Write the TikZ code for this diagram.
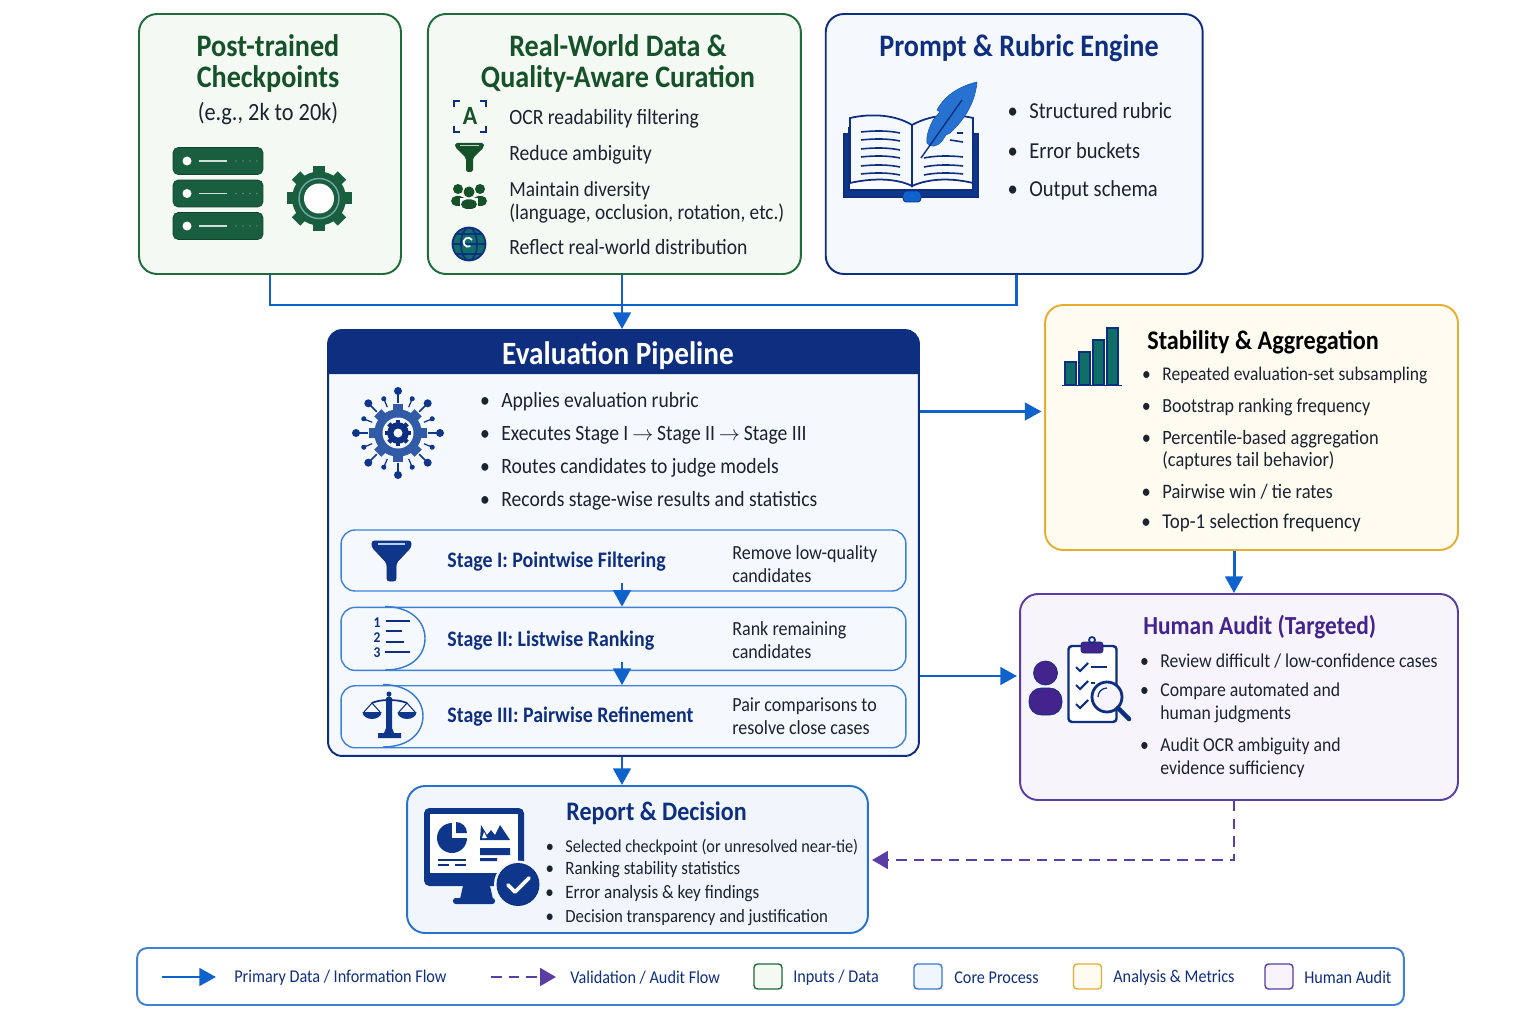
\documentclass[tikz,border=0pt]{standalone}
\usepackage{fontspec}
\setmainfont[FakeStretch=0.9]{Carlito}
\usepackage{tikz}
\usetikzlibrary{arrows.meta,positioning,calc}
\definecolor{flowblue}{HTML}{0F62CC}
\definecolor{navy}{HTML}{0E2F80}
\definecolor{inkgray}{HTML}{1B2230}
\definecolor{leafgreen}{HTML}{1F6B3A}
\definecolor{darkleaf}{HTML}{155229}
\definecolor{softleaf}{HTML}{F5F9F3}
\definecolor{softblue}{HTML}{F5F8FD}
\definecolor{softsky}{HTML}{F1F6FD}
\definecolor{amber}{HTML}{E6AE2E}
\definecolor{softamber}{HTML}{FEFBF1}
\definecolor{violet}{HTML}{5B3DA6}
\definecolor{deepviolet}{HTML}{43248C}
\definecolor{softviolet}{HTML}{F8F4FC}
\definecolor{teal}{HTML}{0F6E68}
\definecolor{servergreen}{HTML}{1A5E40}
\newcommand{\bul}{\llap{\textbullet\hspace{6.5pt}}}
\newcommand{\cogwheel}[5]{% centre, radius, teeth, tooth halfwidth, colour
  \begin{scope}[shift={#1}]
    \foreach \i in {1,...,#3}{\fill[#5,rotate=\i*360/#3] (-#4,0) rectangle (#4,#2*1.3);}
    \fill[#5] (0,0) circle (#2*1.08);
  \end{scope}}
\begin{document}
\begin{tikzpicture}[x=0.02cm,y=-0.02cm,
  panel/.style={draw,line width=1.1pt,rounded corners=.36cm,inner sep=0pt},
  headtext/.style={inner sep=0pt,yshift=-1pt,align=center,font=\fontsize{17.8}{17.8}\selectfont\bfseries},
  bodytext/.style={anchor=west,inner sep=0pt,yshift=-1pt,align=left,text=inkgray,font=\fontsize{12.4}{13.2}\selectfont},
  smalltext/.style={anchor=west,inner sep=0pt,yshift=-1pt,align=left,text=inkgray,font=\fontsize{11.2}{13}\selectfont},
  stagetext/.style={anchor=west,inner sep=0pt,yshift=-1pt,text=navy,font=\fontsize{12.6}{14}\selectfont\bfseries},
  keytext/.style={anchor=west,inner sep=0pt,yshift=-1pt,text=navy,font=\fontsize{10.25}{11}\selectfont},
  stagebox/.style={draw=flowblue!80,line width=.8pt,fill=softblue,rounded corners=.28cm,minimum width=11.3cm,inner sep=0pt},
  swatch/.style={draw,line width=.8pt,rounded corners=2pt,minimum width=.56cm,minimum height=.5cm,inner sep=0pt},
  flow/.style={-{Triangle[length=9.5pt,width=10pt]},line width=1.7pt,flowblue},
  wire/.style={line width=1.7pt,flowblue},
  auditflow/.style={-{Triangle[length=9pt,width=10pt]},line width=1.5pt,violet,dash pattern=on 6pt off 4pt}
]
\useasboundingbox (0,0) rectangle (1536,1024);

% input panels
\node[panel,draw=leafgreen,fill=softleaf,minimum width=5.24cm,minimum height=5.2cm] (post) at (270,144) {};
\node[panel,draw=leafgreen,fill=softleaf,minimum width=7.46cm,minimum height=5.2cm,right=.5cm of post] (real) {};
\node[panel,draw=navy,fill=softblue,minimum width=7.54cm,minimum height=5.2cm,right=.46cm of real] (prompt) {};

\node[headtext,text=darkleaf] (posttitle) at (268,61.5) {Post-trained\\Checkpoints};
\node[bodytext,anchor=center,font=\fontsize{14.1}{14}\selectfont] (postnote) at (268,112) {(e.g., 2k to 20k)};
\foreach \y/\n in {161/a,193.5/b,226/c}{
  \node[draw=servergreen!70!black,fill=servergreen,rounded corners=3pt,minimum width=1.8cm,minimum height=.54cm,inner sep=0pt] (server\n) at (218,\y) {};
  \fill[white] (187,\y) circle (4.5);
  \draw[white!80!servergreen,line width=1pt] (199,\y) -- (227,\y);
  \foreach \x in {236,243,250,257}{\fill[white!60!servergreen] (\x,\y) circle (.7);}
}
\cogwheel{(319,198.5)}{25}{8}{6}{servergreen}
\fill[white] (319,198.5) circle (15);
\draw[teal!60!white,line width=.8pt] (319,198.5) circle (20);

\node[headtext,text=darkleaf] (realtitle) at (618,61.5) {Real-World Data \&\\Quality-Aware Curation};
\node[bodytext] (ocr) at (509,117) {OCR readability filtering};
\node[bodytext] (ambig) at (509,153) {Reduce ambiguity};
\node[bodytext,font=\fontsize{12.2}{13.2}\selectfont] (diverse) at (509,200.5) {Maintain diversity\\(language, occlusion, rotation, etc.)};
\node[bodytext] (reflect) at (509,245) {Reflect real-world distribution};
\draw[navy,line width=1.3pt] (454,107) -- (454,101) -- (460,101) (480,101) -- (486,101) -- (486,107)
  (486,126) -- (486,132) -- (480,132) (460,132) -- (454,132) -- (454,126);
\node[inner sep=0pt,text=darkleaf,font=\fontsize{15}{15}\selectfont\bfseries] (ocrglyph) at (470,116) {A};
\fill[darkleaf,rounded corners=1pt] (455,143) -- (484,143) -- (484,147) -- (473,158) -- (473,172) -- (466,172) -- (466,158) -- (455,147) -- cycle;
\fill[white!75!darkleaf] (460,145) rectangle (479,146);
\foreach \x in {458,480}{
  \fill[darkleaf] (\x,189) circle (5);
  \fill[darkleaf,rounded corners=3pt] (\x-7,206) -- (\x-7,196) -- (\x+7,196) -- (\x+7,206) -- cycle;
}
\fill[darkleaf] (469,192) circle (5.5);
\fill[white] (460,210) -- (460,198) -- (478,198) -- (478,210) -- cycle;
\fill[darkleaf,rounded corners=3pt] (461,209) -- (461,199.5) -- (477,199.5) -- (477,209) -- cycle;
\fill[teal] (469,244) circle (16.5);
\draw[navy,line width=1pt] (469,244) circle (16.5) (469,244) ellipse (8 and 16.5) (452.5,244) -- (485.5,244) (456,234) -- (482,234) (456,254) -- (482,254);
\draw[white,line width=1pt] (472,240) arc (-30:-300:4.5);

\node[headtext,text=navy] (prompttitle) at (1019,46) {Prompt \& Rubric Engine};
\node[bodytext,font=\fontsize{13}{14}\selectfont] (rubric) at (1029,109) {\bul Structured rubric};
\node[bodytext,font=\fontsize{13}{14}\selectfont] (bucket) at (1029,149) {\bul Error buckets};
\node[bodytext,font=\fontsize{13}{14}\selectfont] (schema) at (1029,189) {\bul Output schema};
\fill[navy!85!flowblue,draw=navy,line width=.6pt] (844,134) -- (844,197) -- (978,197) -- (978,134) -- cycle;
\fill[white,draw=navy,line width=.7pt] (849,190) -- (973,190) -- (973,128) -- (849,128) -- cycle;
\fill[softblue,draw=navy,line width=1pt] (850,118) .. controls (872,113) and (896,115) .. (912,125) -- (912,186) .. controls (896,178) and (872,178) .. (850,183) -- cycle;
\fill[softblue,draw=navy,line width=1pt] (912,125) .. controls (930,115) and (952,113) .. (973,118) -- (973,183) .. controls (952,178) and (930,178) .. (912,186) -- cycle;
\foreach \y in {132,140,149,157,166,174}{\draw[navy,line width=.9pt] (861,\y) .. controls (875,\y-1.5) and (888,\y-1.5) .. (900,\y+1);}
\foreach \y in {157,166,174}{\draw[navy,line width=.9pt] (924,\y+1) .. controls (936,\y-1.5) and (950,\y-1.5) .. (963,\y);}
\draw[navy,line width=.9pt] (950,140) -- (963,142) (957,133) -- (963,133);
\fill[flowblue,rounded corners=2pt,draw=navy,line width=.5pt] (903,191) rectangle (921,202);
\fill[flowblue!90!white,draw=flowblue!70!navy,line width=.3pt] (977,82) .. controls (960,86) and (945,95) .. (937,110) -- (940,112) -- (933,120) .. controls (929,128) and (926,136) .. (927,143) .. controls (930,148) and (937,147) .. (942,141) -- (946,135) -- (950,133) .. controls (962,122) and (975,105) .. (977,82) -- cycle;
\draw[navy,line width=.8pt] (921,158) -- (962,100);

% core process
\node[panel,draw=navy,fill=softblue,minimum width=11.82cm,minimum height=8.52cm,rounded corners=.28cm] (pipeline) at (623.5,543) {};
\fill[navy] (328,374) [rounded corners=.28cm] -- (328,330) -- (919.5,330) [sharp corners] -- (919.5,374) -- cycle;
\node[headtext,text=white,font=\fontsize{18.5}{18}\selectfont\bfseries] (pipetitle) at (618,354) {Evaluation Pipeline};
\node[bodytext] (applies) at (501,400) {\bul Applies evaluation rubric};
\node[bodytext] (executes) at (501,434) {\bul Executes Stage I\hspace{2.2pt}$\rightarrow$\hspace{2.2pt}Stage II\hspace{2.2pt}$\rightarrow$\hspace{2.2pt}Stage III};
\node[bodytext] (routes) at (501,466) {\bul Routes candidates to judge models};
\node[bodytext] (records) at (501,499) {\bul Records stage-wise results and statistics};
\foreach \a in {0,45,...,315}{
  \draw[navy!85!flowblue,line width=.9pt,shift={(398,433)},rotate=\a] (0,30) -- (0,42);
  \fill[navy!85!flowblue,shift={(398,433)},rotate=\a] (0,42) circle (4);
  \draw[navy!85!flowblue,line width=.7pt,shift={(398,433)},rotate=\a+22.5] (0,28) -- (0,37);
  \fill[navy!85!flowblue,shift={(398,433)},rotate=\a+22.5] (0,37) circle (2.6);
}
\cogwheel{(398,433)}{22}{8}{5}{navy!70!flowblue!85!white}
\fill[softblue] (398,433) circle (15.5);
\cogwheel{(398,433)}{10}{8}{2.2}{navy}
\fill[softblue] (398,433) circle (4.5);

\node[stagebox,minimum height=1.22cm] (stageone) at (623.5,560.5) {};
\node[stagebox,minimum height=1.26cm,below=.3cm of stageone] (stagetwo) {};
\node[stagebox,minimum height=1.24cm,below=.28cm of stagetwo] (stagethree) {};
\node[stagetext] (titleone) at (447,560) {Stage I: Pointwise Filtering};
\node[stagetext] (titletwo) at (447,638.5) {Stage II: Listwise Ranking};
\node[stagetext] (titlethree) at (447,715) {Stage III: Pairwise Refinement};
\node[smalltext,font=\fontsize{11.4}{13}\selectfont] (noteone) at (732,562.5) {Remove low-quality\\candidates};
\node[smalltext,font=\fontsize{11.4}{13}\selectfont] (notetwo) at (732,638.5) {Rank remaining\\candidates};
\node[smalltext,font=\fontsize{11.4}{13}\selectfont] (notethree) at (732,714.5) {Pair comparisons to\\resolve close cases};
\fill[navy!85!flowblue,rounded corners=1.5pt,draw=navy,line width=.5pt] (372,541) -- (411,541) -- (411,547) -- (396,563) -- (396,581) -- (387,581) -- (387,563) -- (372,547) -- cycle;
\fill[white!70!flowblue] (378,543) rectangle (405,545);
\draw[flowblue!85,line width=.8pt] (385,606.5) .. controls (412,607) and (425,622) .. (425,638.5) .. controls (425,655) and (412,670) .. (385,670);
\draw[flowblue!85,line width=.8pt] (383,684.5) .. controls (410,685) and (423,700) .. (423,716) .. controls (423,732) and (410,747) .. (383,747);
\node[inner sep=0pt,align=center,text=navy,font=\fontsize{8.5}{8.5}\selectfont\bfseries] (ranklist) at (377,638) {1\\2\\3};
\draw[navy,line width=.9pt] (386,621) -- (410,621) (386,631) -- (402,631) (386,642) -- (404,642) (385,652) -- (410,652);
\fill[navy!85!flowblue] (378,738) -- (378,733) -- (384,733) -- (386,728) -- (386,699) -- (392,699) -- (392,728) -- (394,733) -- (401,733) -- (401,738) -- cycle;
\fill[navy!85!flowblue] (389,694) circle (2.5) (389,700) circle (3.5);
\draw[navy,line width=1pt] (372,703) .. controls (380,699) and (398,699) .. (407,703);
\foreach \x in {372,407}{
  \draw[navy,line width=.6pt] (\x-8,712) -- (\x,703) -- (\x+8,712);
  \fill[navy!85!flowblue] (\x-9.5,712) -- (\x+9.5,712) arc (0:180:9.5 and 7) -- cycle;
}

% analysis and audit
\node[panel,draw=amber,fill=softamber,minimum width=8.26cm,minimum height=4.9cm] (stability) at (1251.5,427.5) {};
\node[headtext,anchor=west,text=black,font=\fontsize{15.3}{16}\selectfont\bfseries] (stabtitle) at (1147,340.5) {Stability \& Aggregation};
\node[smalltext,font=\fontsize{11.05}{12.6}\selectfont] (subsample) at (1162,374) {\bul Repeated evaluation-set subsampling};
\node[smalltext,font=\fontsize{11.4}{12.6}\selectfont] (bootstrap) at (1162,406) {\bul Bootstrap ranking frequency};
\node[smalltext,font=\fontsize{11.6}{12.6}\selectfont] (percentile) at (1162,448) {\bul Percentile-based aggregation\\(captures tail behavior)};
\node[smalltext,font=\fontsize{11.7}{12.6}\selectfont] (pairwise) at (1162,490) {\bul Pairwise win / tie rates};
\node[smalltext,font=\fontsize{12}{12.6}\selectfont] (topone) at (1162,521) {\bul Top-1 selection frequency};
\foreach \x/\h in {1065/362,1079/352,1093/340,1107/328}{\fill[teal,draw=navy,line width=.6pt] (\x,\h) rectangle (\x+11,385);}
\draw[navy,line width=1pt] (1062,385.5) -- (1122,385.5);

\node[panel,draw=violet,fill=softviolet,minimum width=8.76cm,minimum height=4.12cm] (audit) at (1239,697) {};
\node[headtext,anchor=west,text=deepviolet,font=\fontsize{14.8}{16}\selectfont\bfseries] (audittitle) at (1143,625.5) {Human Audit (Targeted)};
\node[smalltext] (review) at (1160,659) {\bul Review difficult / low-confidence cases};
\node[smalltext] (compare) at (1160,701.5) {\bul Compare automated and\\human judgments};
\node[smalltext] (ambaudit) at (1160,756) {\bul Audit OCR ambiguity and\\evidence sufficiency};
\fill[deepviolet,draw=navy,line width=.4pt] (1045.5,673) circle (12);
\fill[deepviolet,draw=navy,line width=.4pt,rounded corners=7pt] (1029,715) -- (1029,688) -- (1062,688) -- (1062,715) -- cycle;
\draw[navy,line width=1.4pt,fill=white,rounded corners=2pt] (1068.5,646) rectangle (1116.5,722);
\fill[deepviolet,draw=navy,line width=.4pt,rounded corners=1.5pt] (1081,642) rectangle (1103,653);
\draw[navy,line width=1pt] (1092,640) circle (3);
\foreach \y in {667,685,704}{\draw[navy,line width=1.2pt] (1076,\y) -- (1080,\y+4) -- (1088,\y-4);}
\draw[navy,line width=1pt] (1091,667) -- (1107,667) (1091,683) -- (1095,683);
\draw[navy,line width=1.6pt,fill=softviolet] (1107,697) circle (15);
\draw[navy,line width=.7pt] (1098,697) arc (180:270:9);
\draw[navy,line width=2.6pt,line cap=round] (1118,708) -- (1129,719);

% report
\node[panel,draw=flowblue!90,fill=softsky,minimum width=9.22cm,minimum height=2.94cm] (report) at (637.5,859.5) {};
\node[headtext,anchor=west,text=navy,font=\fontsize{15.2}{16}\selectfont\bfseries] (reporttitle) at (566,811.5) {Report \& Decision};
\node[smalltext,font=\fontsize{10.3}{12}\selectfont] (selected) at (565,845.5) {\bul Selected checkpoint (or unresolved near-tie)};
\node[smalltext,font=\fontsize{10.7}{12}\selectfont] (stats) at (565,867.5) {\bul Ranking stability statistics};
\node[smalltext,font=\fontsize{10.8}{12}\selectfont] (errors) at (565,891.5) {\bul Error analysis \& key findings};
\node[smalltext,font=\fontsize{10.6}{12}\selectfont] (transparent) at (565,915.5) {\bul Decision transparency and justification};
\fill[navy!85!flowblue,rounded corners=3pt] (424,808) rectangle (524,886);
\fill[white] (430,814) rectangle (518,873);
\fill[navy!85!flowblue] (463,886) -- (490,886) -- (493,899) -- (460,899) -- cycle;
\fill[navy!85!flowblue,rounded corners=1.5pt] (453,898) rectangle (495,904);
\fill[navy!85!flowblue] (452,838) circle (15);
\fill[white] (452,838) rectangle (470,820);
\fill[navy!85!flowblue] (456,833) -- (456,822) arc (-90:0:11) -- cycle;
\fill[navy!85!flowblue] (480,840) -- (481,825) -- (487,835) -- (491,830) -- (495,835) -- (500,825) -- (510,840) -- cycle;
\fill[white] (482,838) -- (487,838) -- (484,832) -- cycle;
\fill[navy!85!flowblue] (480,848) rectangle (510,855) (480,858) rectangle (497,861);
\draw[navy,line width=.7pt] (438,860) -- (466,860) (438,865) -- (449,865) (455,865) -- (466,865);
\fill[softsky] (518,884.5) circle (24);
\fill[navy!85!flowblue,draw=navy,line width=.5pt] (518,884.5) circle (21);
\draw[white,line width=2.2pt,line cap=round,line join=round] (508,885) -- (515,892) -- (529,878);

% legend
\node[panel,draw=flowblue!80,fill=white,minimum width=25.34cm,minimum height=1.14cm,rounded corners=.2cm] (legend) at (770.5,976.5) {};
\coordinate (keystart) at (162,977);
\coordinate (keyend) at (216,977);
\coordinate (dashstart) at (491,977);
\coordinate (dashend) at (556,977);
\draw[flow] (keystart) -- (keyend);
\draw[auditflow] (dashstart) -- (dashend);
\node[keytext] (keyprimary) at (234,976) {Primary Data / Information Flow};
\node[keytext] (keyaudit) at (570,976) {Validation / Audit Flow};
\node[swatch,draw=leafgreen,fill=softleaf] (swatchinput) at (768,976.5) {};
\node[keytext] (keyinput) at (793,976) {Inputs / Data};
\node[swatch,draw=flowblue!85,fill=softsky] (swatchcore) at (928,976.5) {};
\node[keytext] (keycore) at (954,976) {Core Process};
\node[swatch,draw=amber,fill=softamber] (swatchmetric) at (1087.5,976.5) {};
\node[keytext] (keymetric) at (1113,976) {Analysis \& Metrics};
\node[swatch,draw=violet,fill=softviolet] (swatchhuman) at (1279,976.5) {};
\node[keytext] (keyhuman) at (1304,976) {Human Audit};

% connectors
\coordinate (bus) at (622,305);
\coordinate (drop) at (1234,572);
\coordinate (pipeout) at (919.5,411.5);
\coordinate (auditout) at (919.5,676);
\coordinate (turn) at (1234,860);
\draw[wire] (post.south) |- (bus);
\draw[wire] ($(prompt.south)+(2.5,0)$) |- (bus);
\draw[flow] (bus |- real.south) -- (bus |- pipeline.north);
\draw[flow] (pipeout) -- (1041.5,411.5);
\draw[flow] (auditout) -- (1017,676);
\draw[flow] (drop |- stability.south) -- (drop |- audit.north);
\draw[flow] ($(stageone.south)+(-1.5,-9)$) -- ($(stagetwo.north)+(-1.5,0)$);
\draw[flow] ($(stagetwo.south)+(-1.5,-9)$) -- ($(stagethree.north)+(-1.5,0)$);
\draw[flow] (bus |- pipeline.south) -- (bus |- report.north);
\draw[auditflow] (turn |- audit.south) -- (turn) -- (872,860);
\end{tikzpicture}
\end{document}
